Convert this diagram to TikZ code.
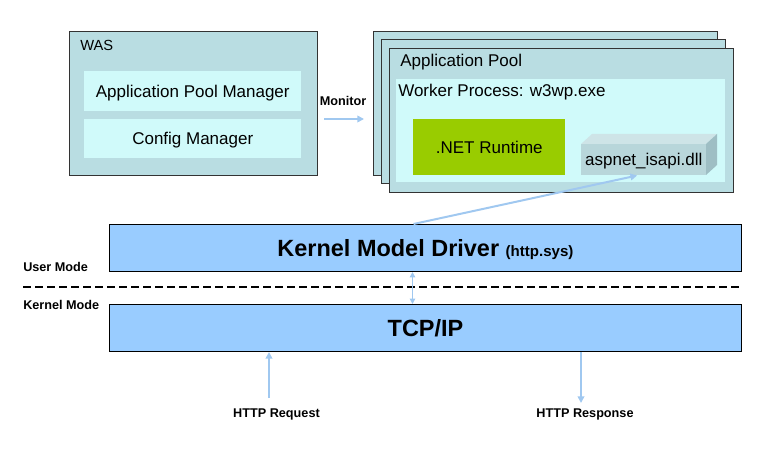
\documentclass[tikz,border=0pt]{standalone}
\usepackage{fontspec}
\setmainfont{Liberation Sans}
\usetikzlibrary{arrows.meta}

\definecolor{wasteal}{RGB}{185,221,226}
\definecolor{paleaqua}{RGB}{208,250,250}
\definecolor{netgreen}{RGB}{153,204,0}
\definecolor{dllfront}{RGB}{184,214,218}
\definecolor{dlltop}{RGB}{206,228,231}
\definecolor{dllside}{RGB}{158,190,196}
\definecolor{kernelblue}{RGB}{153,204,255}
\definecolor{flowblue}{RGB}{160,200,240}

\tikzset{
  txt/.style={font=\fontsize{12.75}{15}\selectfont, text height=9.1pt, text depth=0pt},
  tag/.style={font=\bfseries\fontsize{9.5}{11}\selectfont, inner sep=0pt},
  frame/.style={draw=black!80, line width=0.75pt, fill=wasteal, anchor=north west, inner sep=0pt},
  inbox/.style={fill=paleaqua, anchor=north west, inner sep=0pt, minimum width=162.75pt},
  layer/.style={draw=black, line width=0.75pt, fill=kernelblue, anchor=north west, minimum width=474pt, minimum height=35.25pt, inner sep=0pt},
  flow/.style={draw=flowblue, line width=1.5pt, -{Triangle[length=5pt,width=5pt]}},
}

\begin{document}
\begin{tikzpicture}[x=0.75pt,y=0.75pt,yscale=-1,xscale=1]
\useasboundingbox (0,0) rectangle (775,456);

% WAS
\node[frame, minimum width=186pt, minimum height=108pt] (was) at (69,31) {};
\node[anchor=base west, inner sep=0pt, font=\fontsize{11}{13}\selectfont] (waslbl) at (80,51) {WAS};
\node[inbox, minimum height=30pt, txt] (apm) at (84,71) {Application Pool Manager};
\node[inbox, minimum height=29.25pt, txt] (cfg) at (84,119) {Config Manager};

% Monitor
\node[tag, anchor=base] (monlbl) at (343,106) {Monitor};
\coordinate (mon1) at (324,119);
\coordinate (mon2) at (364,119);
\draw[flow, line width=1.2pt] (mon1) -- (mon2);

% application pools
\foreach \n/\px/\py in {poolc/373/31, poolb/381/39.5, poola/389/48}
  \node[frame, minimum width=258pt, minimum height=108pt] (\n) at (\px,\py) {};
\node[anchor=base west, inner sep=0pt, txt] (poollbl) at (400,67) {Application Pool};
\node[fill=paleaqua, anchor=north west, inner sep=0pt, minimum width=246.75pt, minimum height=77.25pt] (wp) at (396,79) {};
\node[anchor=base west, inner sep=0pt, txt] (wplbl) at (398,97) {Worker Process: w3wp.exe};
\node[fill=netgreen, anchor=north west, inner sep=0pt, minimum width=114pt, minimum height=42pt, txt] (net) at (413,119) {.NET Runtime};

% aspnet_isapi.dll block
\fill[dlltop] (581,144) -- (592,134) -- (717,134) -- (706,144) -- cycle;
\fill[dllside] (706,144) -- (717,134) -- (717,165) -- (706,175) -- cycle;
\node[fill=dllfront, anchor=north west, inner sep=0pt, minimum width=93.75pt, minimum height=23.25pt, txt] (asp) at (581,144) {aspnet\_isapi.dll};

% layers
\node[layer, font=\bfseries\fontsize{17.6}{20}\selectfont, text height=12.6pt, text depth=0pt] (kernel) at (109,224) {Kernel Model Driver {\fontsize{11.3}{13}\selectfont (http.sys)}};
\node[layer, font=\bfseries\fontsize{17.6}{20}\selectfont, text height=12.6pt, text depth=0pt] (tcp) at (109,304) {TCP/IP};

\node[tag, anchor=base west] (user) at (23,272) {User Mode};
\node[tag, anchor=base west] (kmode) at (23,310) {Kernel Mode};
\draw[line width=0.8pt, dash pattern=on 6pt off 3pt] (23,287) -- (741,287);

% connectors
\draw[flow] ([xshift=-9pt]kernel.north) -- ([xshift=-5pt]asp.south);
\draw[flow, line width=1.2pt, {Triangle[length=4pt,width=4pt]}-{Triangle[length=4pt,width=4pt]}] ([xshift=-9.75pt]kernel.south) -- ([xshift=-9.75pt]tcp.north);

\node[tag, anchor=base] (req) at (276.5,417) {HTTP Request};
\node[tag, anchor=base] (resp) at (585,417) {HTTP Response};
\coordinate (reqstart) at (269,398);
\coordinate (respend) at (581,403);
\draw[flow] (reqstart) -- (tcp.south -| reqstart);
\draw[flow] (tcp.south -| respend) -- (respend);

\end{tikzpicture}
\end{document}
